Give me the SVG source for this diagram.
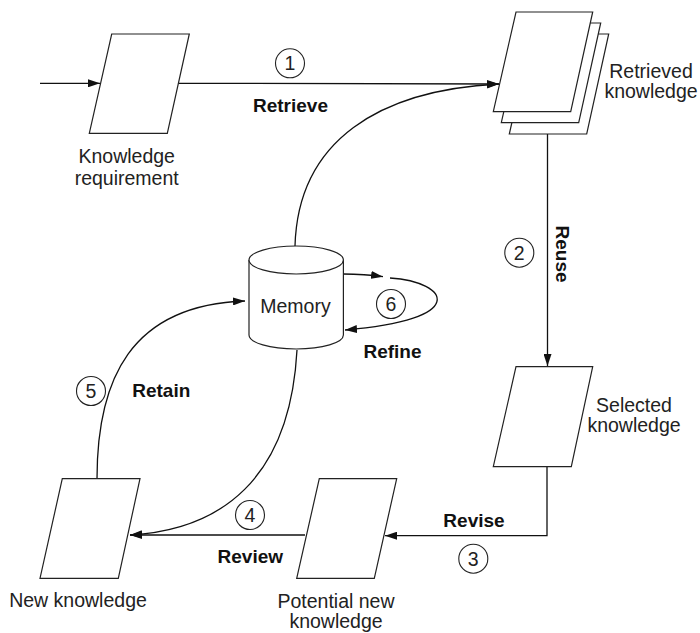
<svg xmlns="http://www.w3.org/2000/svg" width="700" height="633" viewBox="0 0 700 633">
<style>
.sh{fill:#fff;stroke:#222;stroke-width:1.2}
.ln{fill:none;stroke:#111;stroke-width:1.3}
.t{font-family:"Liberation Sans",Arial,sans-serif;font-size:19.5px;fill:#222;text-anchor:middle}
.b{font-family:"Liberation Sans",Arial,sans-serif;font-size:19px;font-weight:bold;fill:#111;text-anchor:middle}
.c{fill:#fff;stroke:#222;stroke-width:1.1}
</style>
<defs>
<marker id="ah" viewBox="0 0 12 8" refX="12" refY="4" markerWidth="12" markerHeight="8" markerUnits="userSpaceOnUse" orient="auto">
<path d="M0,0 L12,4 L0,8 z" fill="#111"/>
</marker>
</defs>
<rect width="700" height="633" fill="#fff"/>
<g id="connectors">
<path class="ln" d="M40 83.3 L100 83.3" marker-end="url(#ah)"/>
<path class="ln" d="M178.5 83.3 L499 84" marker-end="url(#ah)"/>
<path class="ln" d="M295 246 C298 140, 380 90, 499 84" marker-end="url(#ah)"/>
<path class="ln" d="M547.5 134 L547.5 366" marker-end="url(#ah)"/>
<path class="ln" d="M547 466.7 L547 535.7 L385 535.7" marker-end="url(#ah)"/>
<path class="ln" d="M305 535 L130 535" marker-end="url(#ah)"/>
<path class="ln" d="M297 350 C290 480, 220 530, 130 535" marker-end="url(#ah)"/>
<path class="ln" d="M97 479 C97 380, 130 305, 245 301" marker-end="url(#ah)"/>
<path class="ln" d="M343 274 Q365 274 383 276.7" marker-end="url(#ah)"/>
<path class="ln" d="M390 278 C450 282, 470 320, 345 330" marker-end="url(#ah)"/>
</g>
<g id="knowledge-requirement">
<polygon class="sh" points="111.7,34 189.3,34 167.3,133.3 89.3,133.3"/>
<text class="t" x="126.7" y="163">Knowledge</text>
<text class="t" x="126.7" y="185">requirement</text>
</g>
<g id="retrieved-knowledge">
<polygon class="sh" points="532,34 608.7,34 586.7,134 509.3,134"/>
<polygon class="sh" points="524,23 600.7,23 578.7,122.7 501.3,122.7"/>
<polygon class="sh" points="516,12 592.7,12 570.7,111.7 493.3,111.7"/>
<text class="t" x="651" y="78.3">Retrieved</text>
<text class="t" x="651" y="98.3">knowledge</text>
</g>
<g id="selected-knowledge">
<polygon class="sh" points="516,366.7 592.7,366.7 571.3,466.7 493.3,466.7"/>
<text class="t" x="634" y="411.7">Selected</text>
<text class="t" x="634" y="431.7">knowledge</text>
</g>
<g id="potential-new-knowledge">
<polygon class="sh" points="319.3,478.7 396.7,478.7 374.3,578.3 296.7,578.3"/>
<text class="t" x="336" y="608">Potential new</text>
<text class="t" x="336" y="628">knowledge</text>
</g>
<g id="new-knowledge">
<polygon class="sh" points="62.3,478.7 140,478.7 118.3,578.3 40,578.3"/>
<text class="t" x="78" y="607">New knowledge</text>
</g>
<g id="memory">
<path class="sh" d="M249 260 L249 335 A47.2 14 0 0 0 343.4 335 L343.4 260"/>
<ellipse class="sh" cx="296.2" cy="260" rx="47.2" ry="14"/>
<text class="t" x="295.5" y="313.3">Memory</text>
</g>
<g id="labels">
<circle class="c" cx="290" cy="63.3" r="14.5"/>
<text class="t" x="290" y="70.3">1</text>
<text class="b" x="290.5" y="111.7">Retrieve</text>
<circle class="c" cx="519.3" cy="252.7" r="14.5"/>
<text class="t" x="519.3" y="259.7">2</text>
<text class="b" transform="translate(556 254) rotate(90)" x="0" y="0">Reuse</text>
<circle class="c" cx="473.3" cy="558.7" r="14.5"/>
<text class="t" x="473.3" y="565.7">3</text>
<text class="b" x="474" y="526.7">Revise</text>
<circle class="c" cx="250" cy="515" r="14.5"/>
<text class="t" x="250" y="522">4</text>
<text class="b" x="250.3" y="563.3">Review</text>
<circle class="c" cx="91" cy="391" r="14.5"/>
<text class="t" x="91" y="398">5</text>
<text class="b" x="161.3" y="396.7">Retain</text>
<circle class="c" cx="391" cy="304" r="14.5"/>
<text class="t" x="391" y="311">6</text>
<text class="b" x="392.5" y="358.3">Refine</text>
</g>
</svg>
